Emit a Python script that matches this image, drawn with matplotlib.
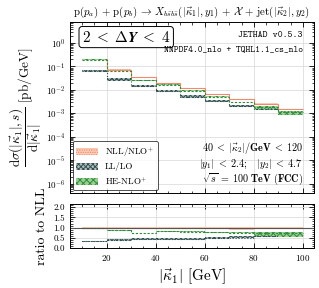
import numpy as np
import matplotlib
matplotlib.use('Agg')
from matplotlib import pyplot as plt

#setting fonts close to latex look
plt.rcParams['mathtext.fontset'] = 'cm'
plt.rcParams['font.family'] = 'serif'
plt.rcParams['font.serif'] = ['cmr10', 'DejaVu Serif']
plt.rcParams['axes.formatter.use_mathtext'] = True
plt.rcParams['hatch.linewidth'] = 0.7

#bin edges in |kappa_1| [GeV]
edges = [10, 20, 30, 40, 50, 60, 70, 80, 90, 100]

#NLL/NLO+ band [pb/GeV]
nllC = [0.205, 0.073, 0.035, 0.020, 0.0115, 0.0068, 0.0041, 0.0026, 0.00155]
nllLo = [0.192, 0.068, 0.0325, 0.0186, 0.0106, 0.0062, 0.0037, 0.00237, 0.00141]
nllHi = [0.209, 0.0745, 0.0357, 0.0204, 0.0118, 0.0070, 0.0042, 0.00266, 0.00159]

#LL/LO band
llC = [0.066, 0.028, 0.0150, 0.0087, 0.0052, 0.0033, 0.0021, 0.00158, 0.00095]
llLo = [0.0595, 0.0250, 0.0138, 0.0079, 0.0045, 0.00295, 0.00194, 0.00141, 0.00084]
llHi = [0.0740, 0.0312, 0.0168, 0.0098, 0.0058, 0.00357, 0.00236, 0.00174, 0.00106]

#HE-NLO+ band
heC = [0.197, 0.065, 0.0256, 0.0166, 0.0093, 0.0052, 0.0031, 0.0019, 0.00112]
heLo = [0.189, 0.0622, 0.0250, 0.0155, 0.0089, 0.0049, 0.00293, 0.00156, 0.00085]
heHi = [0.201, 0.0662, 0.0261, 0.0171, 0.0095, 0.00526, 0.00318, 0.0020, 0.00121]

labels = ['NLL/NLO$^{+}$', 'LL/LO', 'HE-NLO$^{+}$']

nllCol = '#f08a6a'
llCol = '#2f4f4f'
heCol = '#2e8b3e'

fig = plt.figure(figsize=(3.19, 2.88), dpi=100)
ax = fig.add_axes([0.219, 0.330, 0.765, 0.594])
rax = fig.add_axes([0.219, 0.139, 0.765, 0.152], sharex=ax)

def drawBand(a, lo, hi, c, face, edge, hatch, ls, lab=None):
	a.stairs(hi, edges, baseline=lo, fill=True, facecolor=face, edgecolor=edge,
		hatch=hatch, linewidth=0, label=lab)
	a.stairs(c, edges, baseline=None, color=edge, linestyle=ls, linewidth=0.8)

#main panel
drawBand(ax, nllLo, nllHi, nllC, '#fcd0bc', nllCol, '.......', '-', labels[0])
drawBand(ax, llLo, llHi, llC, '#b0bcbc', llCol, 'xxxxxxx', ':', labels[1])
drawBand(ax, heLo, heHi, heC, '#98d090', heCol, 'xxxxx', (0, (2, 1.5)), labels[2])

ax.set_yscale('log')
ax.set_ylim(4e-7, 8)
ax.set_xlim(5, 104.5)
ax.set_yticks([1e0, 1e-1, 1e-2, 1e-3, 1e-4, 1e-5, 1e-6])
ax.grid(True, which='major', color='#dddddd', linewidth=0.6)
ax.set_axisbelow(True)
ax.tick_params(which='both', direction='in', top=True, right=True, labelsize=6.5)
ax.tick_params(which='major', length=3.5, width=0.6)
ax.tick_params(which='minor', length=1.8, width=0.5)
ax.tick_params(axis='x', labelbottom=False)
ax.minorticks_on()
ax.set_ylabel(r'$\dfrac{\mathrm{d}\sigma(|\vec{\kappa}_1|,s)}{\mathrm{d}|\vec{\kappa}_1|}$ [pb/GeV]', fontsize=9.5, labelpad=1)
for sp in ax.spines.values():
	sp.set_linewidth(0.7)

ax.set_title(r'$\mathrm{p}(p_a)\,+\,\mathrm{p}(p_b)\,\rightarrow\,X_{b\bar{s}b\bar{s}}(|\vec{\kappa}_1|, y_1)\,+\,\mathcal{X}\,+\,\mathrm{jet}(|\vec{\kappa}_2|, y_2)$',
	fontsize=7.8, pad=5)

ax.text(0.05, 0.955, r'$\mathbf{2}\;<\;\mathbf{\Delta}\boldsymbol{Y}\;<\;\mathbf{4}$', transform=ax.transAxes,
	fontsize=11, ha='left', va='top',
	bbox=dict(boxstyle='round,pad=0.2', facecolor='white', edgecolor='black', linewidth=0.7))
ax.text(0.955, 0.925, 'JETHAD v0.5.3', transform=ax.transAxes, fontsize=6.8,
	fontname='cmtt10', ha='right', va='center')
ax.text(0.955, 0.835, 'NNPDF4.0_nlo + TQHL1.1_cs_nlo', transform=ax.transAxes, fontsize=6.6,
	fontname='cmtt10', ha='right', va='center')
ax.text(0.955, 0.26, r'$\mathbf{40}\;<\;|\vec{\kappa}_2|/\mathbf{GeV}\;<\;\mathbf{120}$', transform=ax.transAxes,
	fontsize=7.3, ha='right', va='center')
ax.text(0.955, 0.17, r'$|y_1|\;<\;\mathbf{2.4};\quad|y_2|\;<\;\mathbf{4.7}$', transform=ax.transAxes,
	fontsize=7.3, ha='right', va='center')
ax.text(0.955, 0.08, r'$\sqrt{s}\;=\;\mathbf{100\ TeV\ (FCC)}$', transform=ax.transAxes,
	fontsize=7.3, ha='right', va='center')

leg = ax.legend(loc='lower left', fontsize=6.5, frameon=True, fancybox=True, edgecolor='black',
	handlelength=2.4, handleheight=0.9, borderpad=0.4, labelspacing=0.4, borderaxespad=0.3)
leg.get_frame().set_linewidth(0.6)

#ratio panel
ref = np.array(nllC)
drawBand(rax, np.array(nllLo)/ref, np.array(nllHi)/ref, ref/ref, '#fcd0bc', nllCol, '.......', '-')
drawBand(rax, np.array(llLo)/ref, np.array(llHi)/ref, np.array(llC)/ref, '#b0bcbc', llCol, 'xxxxxxx', ':')
drawBand(rax, np.array(heLo)/ref, np.array(heHi)/ref, np.array(heC)/ref, '#98d090', heCol, 'xxxxx', (0, (2, 1.5)))
rax.axhline(1.0, color='#555555', linewidth=0.8)

rax.set_ylim(0, 2.15)
rax.set_yticks([0.0, 0.5, 1.0, 1.5, 2.0])
rax.set_yticklabels(['0.0', '0.5', '1.0', '1.5', '2.0'])
rax.set_xticks([20, 40, 60, 80, 100])
rax.grid(True, which='major', color='#dddddd', linewidth=0.6)
rax.set_axisbelow(True)
rax.tick_params(which='both', direction='in', top=True, right=True, labelsize=6.5)
rax.tick_params(which='major', length=3.5, width=0.6)
rax.tick_params(which='minor', length=1.8, width=0.5)
rax.minorticks_on()
rax.set_ylabel('ratio to NLL', fontsize=10, labelpad=4)
rax.set_xlabel(r'$|\vec{\kappa}_1|$ [GeV]', fontsize=11, labelpad=3)
for sp in rax.spines.values():
	sp.set_linewidth(0.7)

fig.align_ylabels([ax, rax])
fig.savefig('out.png', dpi=100)
